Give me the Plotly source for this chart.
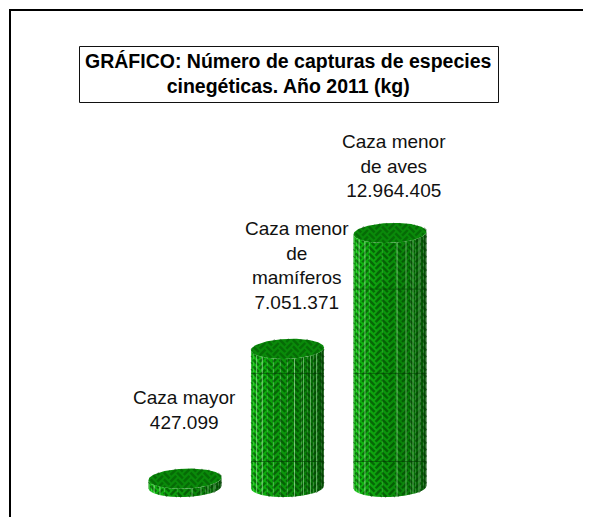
import numpy as np
import plotly.graph_objects as go

categories = ["Caza mayor", "Caza menor de mamíferos", "Caza menor de aves"]
values = [427099, 7051371, 12964405]
labels = ["Caza mayor<br>427.099", "Caza menor<br>de<br>mamíferos<br>7.051.371", "Caza menor<br>de aves<br>12.964.405"]
label_dx = [-1, 9, 4]
label_dy = [44, 34, 30]
title_text = "<b>GRÁFICO: Número de capturas de especies<br>cinegéticas. Año 2011 (kg)</b>"
strip_colors = ["#0a9c0a", "#0eb40e", "#10bc10", "#10b410", "#0eac0e", "#0ea40e", "#0d9c0d", "#0c960c", "#0b8e0b",
                "#0a860a", "#097e09", "#087408", "#076a07", "#066006", "#055405", "#044804"]
pattern_dark = "rgba(0,55,0,0.55)"
cap_color = "#0a8a0a"
cap_pattern = "rgba(0,60,0,0.4)"
light_offsets = [-31, -25, 7, 16, 23, 29]
light_color = "rgba(170,235,170,0.55)"
gridline_values = [1300000, 5800000, 10100000]

OFF = 8  # the page keeps an 8px body margin
W, H = 591 - OFF, 517 - OFF
PX_X, X0 = 102.5, 185.0 - OFF
Y0, PX_Y = 487.0 - OFF, 51041.0
HALF_PX, RY_PX = 36.5, 10.0
HALF = HALF_PX / PX_X
RY = RY_PX * PX_Y
TILT_PX = 0.035  # px up per px right


fig = go.Figure()


def add_poly(xs, ys, color):
    fig.add_trace(go.Scatter(x=xs, y=ys, mode="lines", fill="toself", fillcolor=color,
                             line=dict(width=0), hoverinfo="skip", showlegend=False))


def herringbone(cx, v, on_cap, color):
    """Herringbone texture in local pixels (x right, y up from the base centre), clipped to side or cap."""
    vpx = v / PX_Y

    def inside(x, y):
        if abs(x) > HALF_PX:
            return False
        th = np.sqrt(max(0.0, 1 - (x / HALF_PX) ** 2))
        yy = y - TILT_PX * x
        if on_cap:
            return abs(yy - vpx) <= RY_PX * th
        return -RY_PX * th <= yy <= vpx - RY_PX * th

    a = 4.7
    s2 = np.sqrt(0.5)
    xs, ys = [], []
    span = int((vpx + 100) / a) + 8

    def seg(p, q):
        run = False
        for t in np.linspace(0, 1, 9):
            x = p[0] + (q[0] - p[0]) * t
            y = p[1] + (q[1] - p[1]) * t
            if inside(x, y):
                xs.append(cx + x / PX_X)
                ys.append(y * PX_Y)
                run = True
            elif run:
                xs.append(None)
                ys.append(None)
                run = False
        if run:
            xs.append(None)
            ys.append(None)

    for i in range(-span, span):
        for j in range(-span, span):
            u = (i + 2 * j) * a
            w = (i - 2 * j) * a
            cxp, cyp = (u - w) * s2, (u + w) * s2 - 30
            if abs(cxp) > HALF_PX + 20 or cyp < -RY_PX - 20 or cyp > vpx + RY_PX + 20:
                continue
            # H brick centre line, then V brick centre line (rotated by 45 degrees)
            h = ((u + 0.15 * a, w + 0.5 * a), (u + 1.85 * a, w + 0.5 * a))
            g = ((u + 2.5 * a, w - 0.85 * a), (u + 2.5 * a, w + 0.85 * a))
            for p, q in (h, g):
                P = ((p[0] - p[1]) * s2, (p[0] + p[1]) * s2 - 30)
                Q = ((q[0] - q[1]) * s2, (q[0] + q[1]) * s2 - 30)
                seg(P, Q)
    fig.add_trace(go.Scatter(x=xs, y=ys, mode="lines", line=dict(color=color, width=2.4),
                             hoverinfo="skip", showlegend=False))


for i, v in enumerate(values):
    n = len(strip_colors)
    edges = HALF * np.cos(np.linspace(np.pi, 0, n + 1))
    tilt = TILT_PX * PX_Y * PX_X
    for j in range(n):
        a = np.linspace(edges[j], edges[j + 1], 6)
        low = -RY * np.sqrt(np.clip(1 - (a / HALF) ** 2, 0, 1)) + tilt * a
        add_poly(np.r_[i + a, i + a[::-1], i + a[0]],
                 np.r_[low, (v + low)[::-1], low[0]], strip_colors[j])
    herringbone(i, v, False, pattern_dark)
    lx, ly = [], []
    for o in light_offsets:
        e = o / PX_X
        b = -RY * np.sqrt(max(0.0, 1 - (e / HALF) ** 2)) + tilt * e
        lx += [i + e, i + e, None]
        ly += [b, b + v, None]
    fig.add_trace(go.Scatter(x=lx, y=ly, mode="lines", line=dict(color=light_color, width=1),
                             hoverinfo="skip", showlegend=False))
    for g in gridline_values:
        if g < v - RY:
            fig.add_trace(go.Scatter(x=[i - HALF, i + HALF], y=[g, g], mode="lines",
                                     line=dict(color="rgba(0,50,0,0.5)", width=1),
                                     hoverinfo="skip", showlegend=False))
    t = np.linspace(0, 2 * np.pi, 120)
    a = HALF * np.cos(t)
    add_poly(i + a, v + RY * np.sin(t) + tilt * a, cap_color)
    herringbone(i, v, True, cap_pattern)

annotations = [dict(x=i, y=v, xref="x", yref="y", text=labels[i], showarrow=False, yanchor="bottom",
                    xshift=label_dx[i], yshift=label_dy[i],
                    font=dict(family="Liberation Sans", size=19, color="#111111"))
               for i, v in enumerate(values)]
annotations.append(dict(x=(288.5 - OFF) / W, y=1 - (74 - OFF) / H, xref="paper", yref="paper", text=title_text,
                        showarrow=False, xanchor="center", yanchor="middle",
                        font=dict(family="Liberation Sans", size=19.5, color="#000000")))


def px(x):
    return (x - OFF) / W


def py(y):
    return 1 - (y - OFF) / H


fig.update_layout(
    width=W, height=H, margin=dict(l=0, r=0, t=0, b=0), paper_bgcolor="white", plot_bgcolor="white",
    xaxis=dict(visible=False, range=[-X0 / PX_X, (W - X0) / PX_X], fixedrange=True),
    yaxis=dict(visible=False, range=[-(H - Y0) * PX_Y, Y0 * PX_Y], fixedrange=True),
    annotations=annotations,
    shapes=[
        dict(type="path", xref="paper", yref="paper",
             path=f"M {px(10)} 0 L {px(10)} {py(10)} L 1 {py(10)}",
             line=dict(color="#000000", width=2)),
        dict(type="rect", xref="paper", yref="paper", x0=px(79.5), x1=px(498.5), y0=py(102.5), y1=py(46.5),
             line=dict(color="#111111", width=1), fillcolor="white", layer="below"),
    ],
)
fig.write_html("out.html")
